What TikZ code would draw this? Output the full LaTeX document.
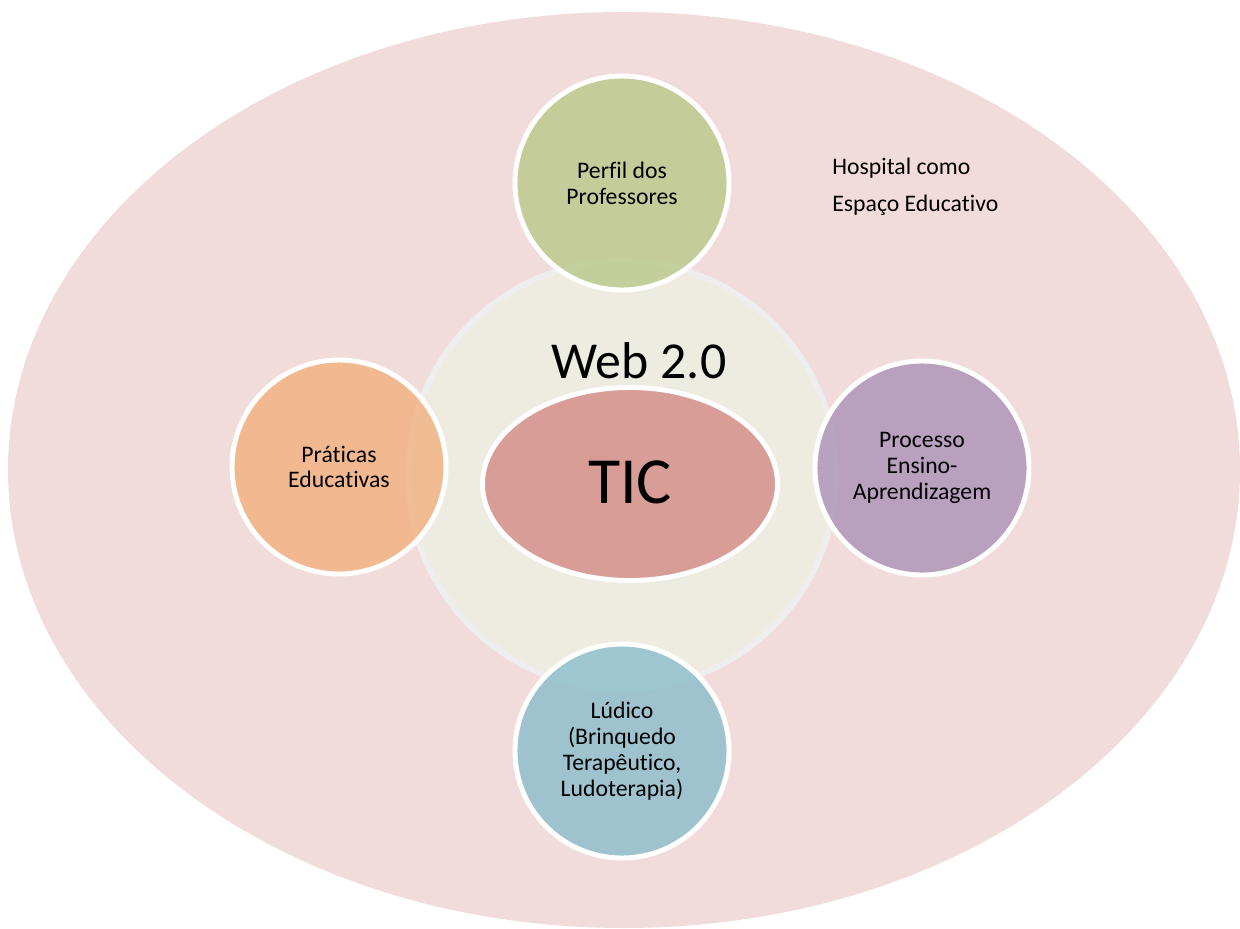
\documentclass[tikz,border=0pt]{standalone}
\usepackage{fontspec}
\setmainfont{Carlito}[Ligatures=CommonOff]
\usetikzlibrary{shapes.geometric}

\definecolor{fundo}{RGB}{242,220,219}
\definecolor{webcor}{RGB}{238,235,225}
\definecolor{webborda}{RGB}{238,238,238}
\definecolor{ticcor}{RGB}{216,157,151}
\definecolor{verde}{RGB}{185,201,138}
\definecolor{laranja}{RGB}{242,176,125}
\definecolor{roxo}{RGB}{170,145,183}
\definecolor{azul}{RGB}{137,189,205}

\begin{document}
\begin{tikzpicture}[
    bolha/.style={circle, draw=white, line width=2.8pt, minimum size=4.28cm,
        inner sep=0pt, align=center, fill opacity=0.8, text opacity=1,
        font=\fontsize{13.5}{14.7}\selectfont},
    texto/.style={font=\fontsize{13.5}{14.7}\selectfont, anchor=base west, inner sep=0pt}
]
    \useasboundingbox (0,0) rectangle (24.8,-18.56);

    % Hospital (fundo)
    \path [fill=fundo] (12.48,-9.40) ellipse (12.32 and 9.16);
    \node [texto] (hosp1) at (16.64,-3.48) {Hospital como};
    \node [texto] (hosp2) at (16.64,-4.22) {Espaço Educativo};

    % Web 2.0 e TIC
    \node [circle, draw=webborda, line width=3.4pt, fill=webcor, minimum size=8.56cm, inner sep=0pt] (web) at (12.44,-9.50) {};
    \node [anchor=base, inner sep=0pt, font=\fontsize{29.5}{30}\selectfont] (webtxt) at (12.78,-7.56) {Web 2.0};
    \node [ellipse, draw=white, line width=2.8pt, fill=ticcor, minimum width=5.90cm, minimum height=3.86cm, inner sep=0pt] (tic) at (12.60,-9.68) {};
    \node [anchor=base, inner sep=0pt, font=\fontsize{37.5}{38}\selectfont] (tictxt) at (12.60,-10.06) {TIC};

    % circulos em volta
    \node [bolha, fill=verde] (perfil) at (12.44,-3.66) {Perfil dos\\Professores};
    \node [bolha, fill=laranja] (praticas) at (6.78,-9.34) {Práticas\\Educativas};
    \node [bolha, fill=roxo] (processo) at (18.44,-9.36) {Processo\\Ensino-\\Aprendizagem};
    \node [bolha, fill=azul] (ludico) at (12.44,-15.02) {Lúdico\\(Brinquedo\\Terapêutico,\\Ludoterapia)};
\end{tikzpicture}
\end{document}
